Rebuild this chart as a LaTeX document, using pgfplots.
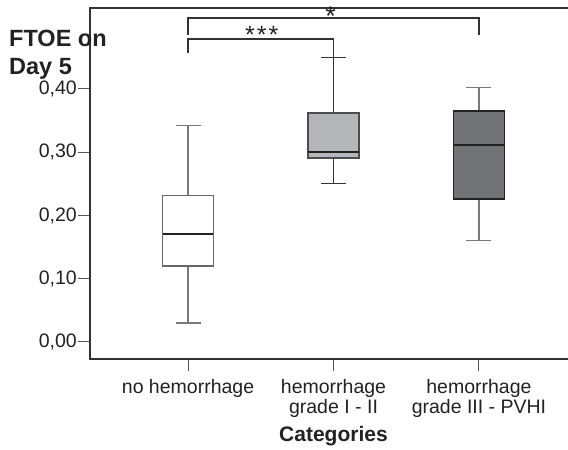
\documentclass[border=0pt]{standalone}
\usepackage{fontspec}
\setmainfont{Liberation Sans}
\usepackage{pgfplots}
\pgfplotsset{compat=1.18}
\usepgfplotslibrary{statistics}

\definecolor{framegray}{HTML}{333333}
\definecolor{tickgray}{HTML}{555555}
\definecolor{textgray}{HTML}{222222}
\definecolor{lightbox}{HTML}{B5B6BA}
\definecolor{darkbox}{HTML}{727377}
\definecolor{whiskgray}{HTML}{7A7A7A}

\begin{document}
\begin{tikzpicture}
\useasboundingbox (0pt,0pt) rectangle (568pt,450pt);
\begin{axis}[
  at={(90pt,91pt)}, anchor=south west,
  scale only axis,
  width=487pt, height=351pt,
  xmin=-0.674, xmax=2.674,
  ymin=-0.0269, ymax=0.528,
  clip=false,
  axis line style={draw=framegray, line width=1.1pt},
  tick align=outside,
  xtick pos=bottom, ytick pos=left,
  major tick length=12pt,
  tick style={draw=tickgray, line width=1pt},
  xtick={0,1,2},
  xticklabels={no hemorrhage, {hemorrhage\\grade I - II}, {hemorrhage\\grade III - PVHI}},
  xticklabel style={align=center, font=\fontsize{19.5}{20}\selectfont, text=textgray, inner sep=0pt, yshift=-8pt},
  ytick={0,0.1,0.2,0.3,0.4},
  yticklabel style={font=\fontsize{19.5}{20}\selectfont, text=textgray, inner sep=0pt, xshift=-1pt,
    /pgf/number format/.cd, fixed, fixed zerofill, precision=2, use comma, assume math mode=true},
  boxplot/draw direction=y,
  boxplot/box extend=0.35,
  boxplot/whisker extend=0.172,
]
% no hemorrhage
\addplot[
  boxplot prepared={draw position=0,
    lower whisker=0.030, lower quartile=0.120, median=0.171,
    upper quartile=0.231, upper whisker=0.342},
  draw=whiskgray, fill=white, line width=1.2pt,
  boxplot/every box/.style={draw=black!60, fill=white, line width=1.2pt},
  boxplot/every whisker/.style={draw=whiskgray, line width=1.2pt},
  boxplot/every median/.style={draw=textgray, line width=2pt},
] coordinates {};
% hemorrhage grade I - II
\addplot[
  boxplot prepared={draw position=1,
    lower whisker=0.251, lower quartile=0.291, median=0.300,
    upper quartile=0.362, upper whisker=0.450},
  draw=framegray, fill=lightbox, line width=1.2pt,
  boxplot/every box/.style={draw=black!70, fill=lightbox, line width=1.2pt},
  boxplot/every whisker/.style={draw=framegray, line width=1.2pt},
  boxplot/every median/.style={draw=textgray, line width=2pt},
] coordinates {};
% hemorrhage grade III - PVHI
\addplot[
  boxplot prepared={draw position=2,
    lower whisker=0.161, lower quartile=0.226, median=0.311,
    upper quartile=0.365, upper whisker=0.402},
  draw=whiskgray, fill=darkbox, line width=1.2pt,
  boxplot/every box/.style={draw=textgray, fill=darkbox, line width=1.4pt},
  boxplot/every whisker/.style={draw=whiskgray, line width=1.2pt},
  boxplot/every median/.style={draw=textgray, line width=2pt},
] coordinates {};

% significance brackets
\draw[framegray, line width=1.3pt]
  (axis cs:0,0.486) -- (axis cs:0,0.512) -- (axis cs:2,0.512) -- (axis cs:2,0.486);
\draw[framegray, line width=1.3pt]
  (axis cs:0,0.457) -- (axis cs:0,0.479) -- (axis cs:1,0.479) -- (axis cs:1,0.450);
\node[font=\fontsize{27}{27}\selectfont, text=textgray, inner sep=0pt]
  at (axis cs:0.981,0.515) {*};
\node[font=\fontsize{25}{25}\selectfont, text=textgray, inner sep=0pt]
  at (axis cs:0.507,0.485) {*\kern2pt*\kern2pt*};
\end{axis}

% axis titles
\node[anchor=base west, font=\bfseries\fontsize{23.5}{23.5}\selectfont, text=textgray, inner sep=0pt]
  at (9pt,403pt) {FTOE on};
\node[anchor=base west, font=\bfseries\fontsize{23.5}{23.5}\selectfont, text=textgray, inner sep=0pt]
  at (9pt,375pt) {Day 5};
\node[anchor=base, font=\bfseries\fontsize{21}{21}\selectfont, text=textgray, inner sep=0pt]
  at (333.5pt,8.3pt) {Categories};
\end{tikzpicture}
\end{document}
